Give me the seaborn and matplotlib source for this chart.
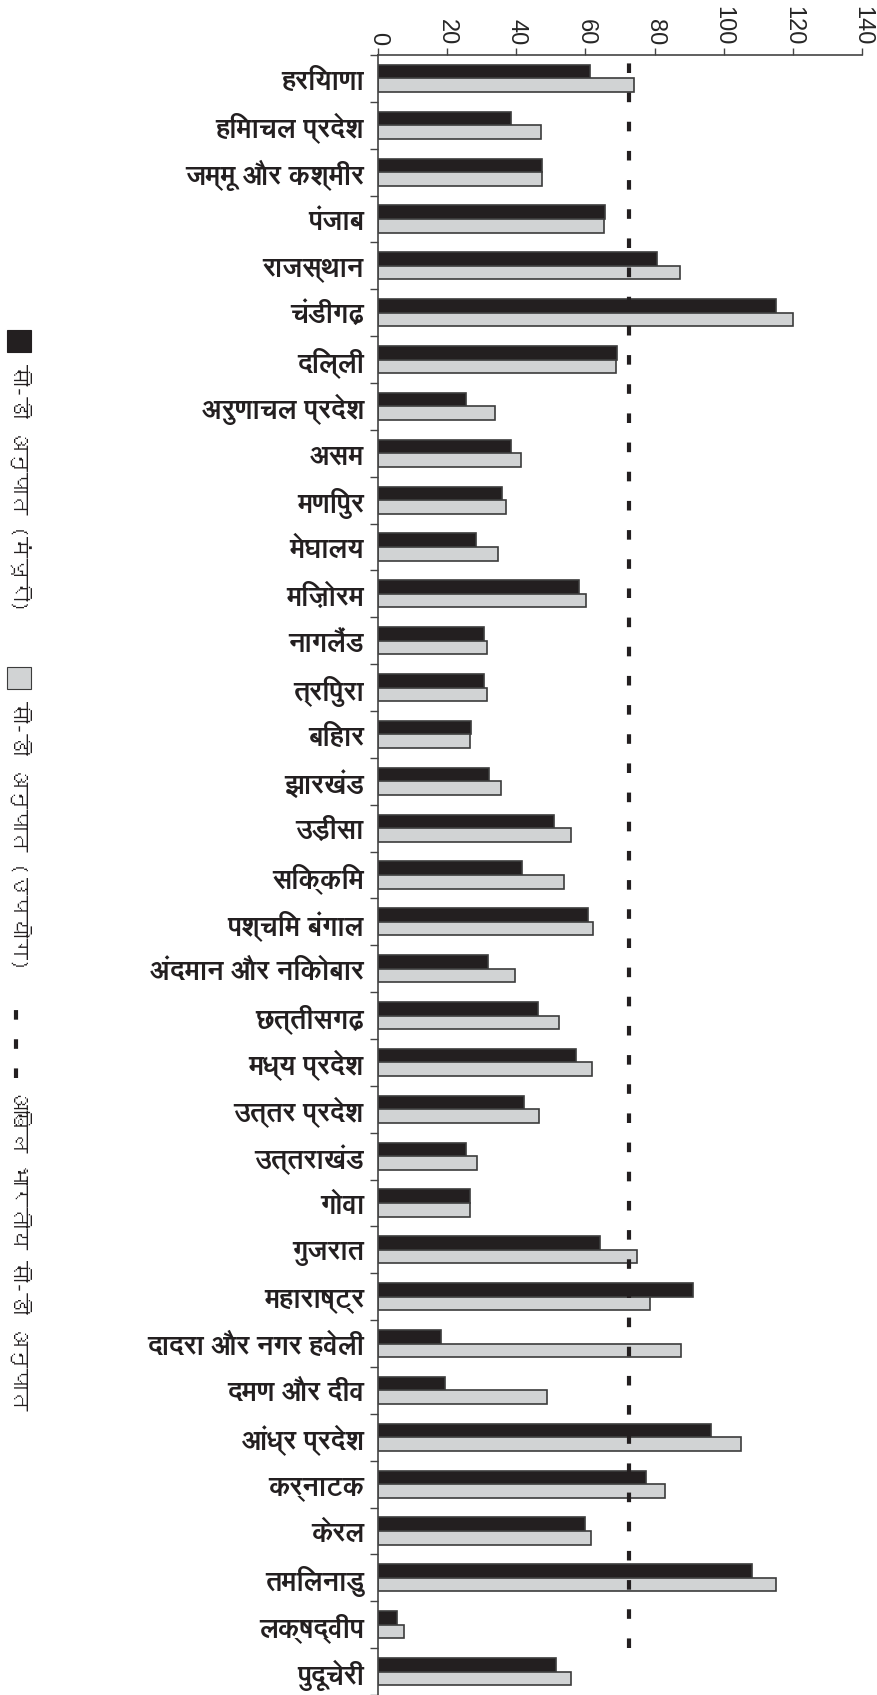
import matplotlib
matplotlib.use("Agg")
import matplotlib.pyplot as plt
import matplotlib.font_manager as fm
from matplotlib.ft2font import FT2Font
from matplotlib.patches import Rectangle
from matplotlib.lines import Line2D
from matplotlib.ticker import FixedLocator
import seaborn as sns
import pandas as pd

# ---------------- data ----------------
states = [
    "हरियाणा", "हिमाचल प्रदेश", "जम्मू और कश्मीर", "पंजाब", "राजस्थान",
    "चंडीगढ़", "दिल्ली", "अरुणाचल प्रदेश", "असम", "मणिपुर", "मेघालय",
    "मिज़ोरम", "नागलैंड", "त्रिपुरा", "बिहार", "झारखंड", "उड़ीसा", "सिक्किम",
    "पश्चिम बंगाल", "अंदमान और निकोबार", "छत्तीसगढ़", "मध्य प्रदेश",
    "उत्तर प्रदेश", "उत्तराखंड", "गोवा", "गुजरात", "महाराष्ट्र",
    "दादरा और नगर हवेली", "दमण और दीव", "आंध्र प्रदेश", "कर्नाटक", "केरल",
    "तमिलनाडु", "लक्षद्वीप", "पुदूचेरी",
]
cd_sanction = [61.4, 38.6, 47.4, 65.8, 80.7, 115.1, 69.0, 25.5, 38.5, 36.0,
               28.3, 58.0, 30.8, 30.8, 26.8, 32.0, 50.8, 41.6, 60.7, 31.8,
               46.4, 57.4, 42.2, 25.4, 26.6, 64.1, 91.2, 18.1, 19.4, 96.4,
               77.4, 59.8, 108.2, 5.4, 51.5]
cd_utilisation = [74.0, 47.1, 47.4, 65.5, 87.5, 119.9, 68.8, 33.8, 41.5, 37.0,
                  34.6, 60.1, 31.6, 31.5, 26.5, 35.7, 55.7, 53.7, 62.2, 39.5,
                  52.3, 61.9, 46.5, 28.6, 26.5, 75.0, 78.6, 87.7, 49.0, 104.9,
                  82.9, 61.7, 115.2, 7.6, 55.9]
all_india_cd = 72.5
series_names = ["सी-डी अनुपात (मंजूरी)", "सी-डी अनुपात (उपयोग)"]
line_label = "अखिल भारतीय सी-डी अनुपात"
x_ticks = [0, 20, 40, 60, 80, 100, 120, 140]

# ---------------- fonts ----------------
def find_devanagari():
    paths = []
    for f in fm.fontManager.ttflist:
        if f.fname not in paths:
            paths.append(f.fname)
    try:
        for p in fm.findSystemFonts():
            if p not in paths:
                paths.append(p)
    except Exception:
        pass
    found = []
    for p in paths:
        try:
            ft = FT2Font(p)
            if 0x0915 in ft.get_charmap():
                found.append(p)
        except Exception:
            pass
    return found

deva_paths = find_devanagari()
reg_name, bold_name = None, None
for p in deva_paths:
    try:
        fm.fontManager.addfont(p)
        nm = fm.FontProperties(fname=p).get_name()
    except Exception:
        continue
    if "bold" in p.lower():
        bold_name = bold_name or nm
    else:
        reg_name = reg_name or nm
reg_name = reg_name or bold_name or "Noto Sans"
bold_name = bold_name or reg_name
deva_fam = [reg_name, "DejaVu Sans"]
deva_bold_fam = [bold_name, "DejaVu Sans"]

sns.set_theme(style="white")
plt.rcParams["font.family"] = deva_fam

# ---------------- figure ----------------
W, H = 878, 1695
fig = plt.figure(figsize=(W / 100, H / 100), dpi=100)
ax = fig.add_axes([378 / W, 0.0, (862 - 378) / W, 1 - 55 / H])

DARK = "#231f20"
LIGHT = "#d1d3d4"
EDGE = "#3c3c3c"

df = pd.DataFrame({
    "state": states * 2,
    "value": cd_sanction + cd_utilisation,
    "series": [series_names[0]] * len(states) + [series_names[1]] * len(states),
})

sns.barplot(data=df, x="value", y="state", hue="series", orient="h",
            hue_order=series_names, order=states,
            palette=[DARK, LIGHT], saturation=1, width=0.58,
            edgecolor=EDGE, linewidth=1.2, legend=False, ax=ax)

n = len(states)
ax.axvline(all_india_cd, ymin=1 / n, ymax=1, color=DARK, lw=3,
           linestyle=(0, (2.3, 4.7)), zorder=5)

ax.set_xlim(0, 140)
ax.set_ylim(n - 0.5, -0.5)
ax.xaxis.tick_top()
ax.set_xticks(x_ticks)
ax.set_xticklabels([str(t) for t in x_ticks], rotation=-90,
                   family=["Liberation Sans", "DejaVu Sans"], fontsize=17)
ax.tick_params(axis="x", which="major", direction="out", length=5, width=1,
               color="#444444", pad=2, bottom=False, top=True)
ax.set_xlabel("")
ax.set_ylabel("")

ax.yaxis.set_minor_locator(FixedLocator([i - 0.5 for i in range(n + 1)]))
ax.tick_params(axis="y", which="minor", direction="out", length=6, width=1,
               color="#444444", left=True)
ax.tick_params(axis="y", which="major", length=0, pad=10, left=False)
for lab in ax.get_yticklabels():
    lab.set_family(deva_bold_fam)
    lab.set_fontweight("bold")
    lab.set_fontsize(19.5)
    lab.set_color("#231f20")

for s in ["right", "bottom"]:
    ax.spines[s].set_visible(False)
for s in ["left", "top"]:
    ax.spines[s].set_color("#444444")
    ax.spines[s].set_linewidth(1.2)
ax.grid(False)

# ---------------- legend (rotated, left side) ----------------
def fx(x):
    return x / W

def fy(y):
    return 1 - y / H

fig.add_artist(Rectangle((fx(7), fy(352)), 24 / W, 22 / H, transform=fig.transFigure,
                         facecolor=DARK, edgecolor=DARK, lw=0.8))
fig.text(fx(20), fy(364), series_names[0], rotation=-90, ha="center", va="top",
         fontsize=15.5, family=deva_fam, color="#231f20")

fig.add_artist(Rectangle((fx(7), fy(689)), 24 / W, 22 / H, transform=fig.transFigure,
                         facecolor=LIGHT, edgecolor=EDGE, lw=0.8))
fig.text(fx(20), fy(701), series_names[1], rotation=-90, ha="center", va="top",
         fontsize=15.5, family=deva_fam, color="#231f20")

fig.add_artist(Line2D([fx(16), fx(16)], [fy(1078), fy(1008)], transform=fig.transFigure,
                      color=DARK, lw=3, linestyle=(0, (2.3, 4.7))))
fig.text(fx(20), fy(1088), line_label, rotation=-90, ha="center", va="top",
         fontsize=15.5, family=deva_fam, color="#231f20")

fig.savefig("out.png", dpi=100)
